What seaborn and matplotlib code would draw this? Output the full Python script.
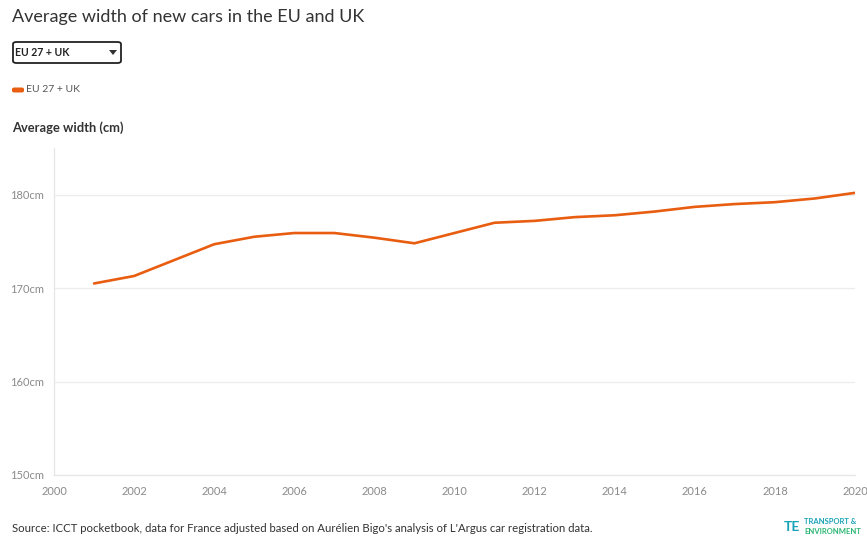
import matplotlib
matplotlib.use("Agg")
import matplotlib.pyplot as plt
import seaborn as sns
import pandas as pd
from matplotlib.patches import FancyBboxPatch, Polygon

years = [2001, 2002, 2003, 2004, 2005, 2006, 2007, 2008, 2009, 2010,
         2011, 2012, 2013, 2014, 2015, 2016, 2017, 2018, 2019, 2020]
width_cm = [170.5, 171.3, 173.0, 174.7, 175.5, 175.9, 175.9, 175.4, 174.8, 175.9,
            177.0, 177.2, 177.6, 177.8, 178.2, 178.7, 179.0, 179.2, 179.6, 180.2]
series_name = "EU 27 + UK"
x_ticks = [2000, 2002, 2004, 2006, 2008, 2010, 2012, 2014, 2016, 2018, 2020]
y_ticks = [150, 160, 170, 180]
y_labels = ["150cm", "160cm", "170cm", "180cm"]

sns.set_theme(style="white")
plt.rcParams['font.family'] = ['Lato', 'DejaVu Sans']

W, H = 867, 538
fig = plt.figure(figsize=(W / 100, H / 100), dpi=100)
ax = fig.add_axes([54 / W, 1 - 475 / H, (855 - 54) / W, (475 - 148) / H])

df = pd.DataFrame({"year": years, "width": width_cm})
orange = "#e85d10"
sns.lineplot(data=df, x="year", y="width", ax=ax, color=orange, linewidth=1.9,
             legend=False)

ax.set_xlim(2000, 2020)
ax.set_ylim(150, 185)
ax.set_xticks(x_ticks)
ax.set_xticklabels([str(t) for t in x_ticks])
ax.set_yticks(y_ticks)
ax.set_yticklabels(y_labels)
ax.set_xlabel("")
ax.set_ylabel("")
for t in ax.get_xticklabels() + ax.get_yticklabels():
    t.set_color("#8a8a8a")
    t.set_fontsize(8)
ax.tick_params(axis="x", length=0, pad=8)
ax.tick_params(axis="y", length=5, color="#e6e6e6", pad=2)
ax.grid(axis="y", color="#ececec", linewidth=0.9)
ax.grid(axis="x", visible=False)
for s in ["top", "right"]:
    ax.spines[s].set_visible(False)
ax.spines["left"].set_color("#e6e6e6")
ax.spines["bottom"].set_color("#e6e6e6")
ax.spines["left"].set_linewidth(0.9)
ax.spines["bottom"].set_linewidth(0.9)

def fy(py):
    return 1 - py / H

def fx(px):
    return px / W

fig.text(fx(12), fy(17), "Average width of new cars in the EU and UK",
         fontsize=13, color="#333333", va="center", ha="left")

# dropdown box
box = FancyBboxPatch((fx(13), fy(63)), fx(121) - fx(13), fy(42) - fy(63),
                     boxstyle="round,pad=0,rounding_size=0.004",
                     transform=fig.transFigure, facecolor="white",
                     edgecolor="#222222", linewidth=1.3)
fig.patches.append(box)
fig.text(fx(15), fy(52.5), "EU 27 + UK", fontsize=7.6, fontweight="bold",
         color="#222222", va="center", ha="left")
tri = Polygon([(fx(109), fy(50)), (fx(117), fy(50)), (fx(113), fy(55))],
              closed=True, transform=fig.transFigure, facecolor="#333333",
              edgecolor="none")
fig.patches.append(tri)

# legend
pill = FancyBboxPatch((fx(12), fy(92.5)), fx(24) - fx(12), fy(87.5) - fy(92.5),
                      boxstyle="round,pad=0,rounding_size=0.003",
                      transform=fig.transFigure, facecolor=orange,
                      edgecolor="none")
fig.patches.append(pill)
fig.text(fx(26), fy(90), series_name, fontsize=7.5, color="#555555",
         va="center", ha="left")

fig.text(fx(12), fy(128), "Average width (cm)", fontsize=9.3, fontweight="bold",
         color="#333333", va="center", ha="left")

fig.text(fx(12), fy(529), "Source: ICCT pocketbook, data for France adjusted based on Aurélien Bigo's analysis of L'Argus car registration data.",
         fontsize=8.2, color="#333333", va="center", ha="left")

# logo
teal = "#1aa3b8"
green = "#2bb673"
fig.text(fx(784), fy(527), "TE", fontsize=10, fontweight="bold", color=teal,
         va="center", ha="left")
fig.text(fx(804), fy(522), "TRANSPORT &", fontsize=5.5, fontweight="bold",
         color=teal, va="center", ha="left")
fig.text(fx(804), fy(532), "ENVIRONMENT", fontsize=5.5, fontweight="bold",
         color=green, va="center", ha="left")

fig.savefig("out.png", dpi=100, facecolor="white")
